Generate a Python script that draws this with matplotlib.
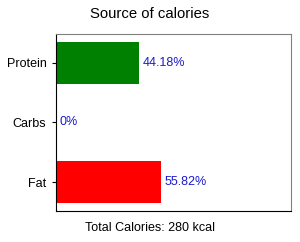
import matplotlib
matplotlib.use('Agg')
import matplotlib.pyplot as plt

# Datos
categorias = ['Fat', 'Carbs', 'Protein']
porcentajes = [55.82, 0.0, 44.18]
etiquetas = ['55.82%', '0%', '44.18%']
colores = ['red', 'white', 'green']
total_kcal = 280

plt.rcParams['font.family'] = ['Liberation Sans', 'DejaVu Sans']

fig = plt.figure(figsize=(3.0, 2.42), dpi=100)
ax = fig.add_axes([55.5 / 300, 1 - 211 / 242, 235.5 / 300, 177 / 242])

ax.barh(categorias, porcentajes, height=0.7, color=colores)
for i, (v, txt) in enumerate(zip(porcentajes, etiquetas)):
    ax.annotate(txt, (v, i), xytext=(3, 0), textcoords='offset points',
                color='#1a1acc', va='center', ha='left', fontsize=9)

ax.set_xlim(0, 125)
ax.set_xticks([])
ax.tick_params(axis='y', labelsize=9, length=3)
for lado in ['top', 'right']:
    ax.spines[lado].set_color('#808080')

fig.suptitle('Source of calories', fontsize=10.7, y=1 - 14 / 242, va='center')
fig.text(0.5, 1 - 228 / 242, f'Total Calories: {total_kcal} kcal',
         ha='center', va='center', fontsize=9)

plt.savefig('out.png', dpi=100)
plt.close()
